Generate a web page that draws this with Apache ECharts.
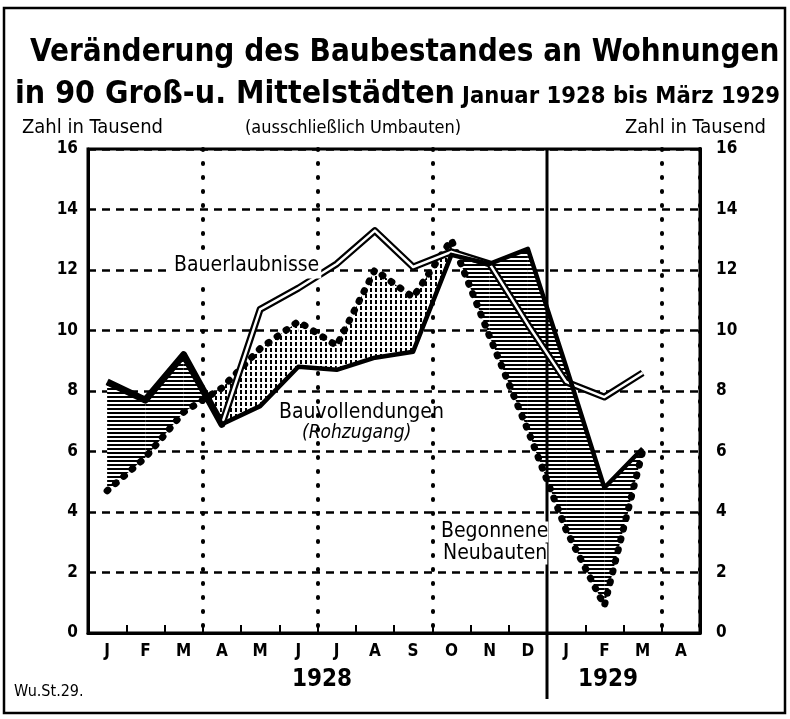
<!DOCTYPE html>
<html><head><meta charset="utf-8">
<script src="https://cdn.jsdelivr.net/npm/echarts@6/dist/echarts.min.js"></script>
<style>html,body{margin:0;padding:0;background:#fff}#c{width:790px;height:719px}</style>
</head><body><div id="c"></div>
<script>
// ---- data ----
const categories = ['1928-01','1928-02','1928-03','1928-04','1928-05','1928-06','1928-07','1928-08','1928-09','1928-10','1928-11','1928-12','1929-01','1929-02','1929-03','1929-04'];
const monthLabels = ['J','F','M','A','M','J','J','A','S','O','N','D','J','F','M','A'];
const yearLabels = ['1928','1929'];
const quarterBoundaries = [3, 6, 9, 15];
const yearBoundary = 12;
const bauerlaubnisse   = [8.3, 7.7, 9.2, 6.9, 10.7, 11.4, 12.2, 13.3, 12.1, 12.6, 12.2, 10.2, 8.3, 7.8, 8.6, null];
const bauvollendungen  = [8.3, 7.7, 9.2, 6.9, 7.5, 8.8, 8.7, 9.1, 9.3, 12.5, 12.2, 12.7, 8.8, 4.8, 6.1, null];
const begonneneNeubauten = [4.7, 5.8, 7.3, 8.1, 9.4, 10.3, 9.5, 12.0, 11.1, 13.0, 9.8, 6.7, 3.4, 0.9, 6.0, null];

// ---- helpers ----
const NARROW = '"Liberation Sans Narrow","DejaVu Sans Condensed","Roboto Condensed","Liberation Sans",sans-serif';
const mctx = document.createElement('canvas').getContext('2d');
function fitSize(text, weight, family, width){ mctx.font = weight + ' 100px ' + family; return 100 * width / mctx.measureText(text).width; }
function hatch(kind){
  const c = document.createElement('canvas');
  const g = c.getContext('2d');
  if (kind === 'h') { c.width = 4; c.height = 4; g.fillStyle = '#fff'; g.fillRect(0,0,4,4); g.fillStyle = '#000'; g.fillRect(0,0,4,2); }
  else { c.width = 5; c.height = 6; g.fillStyle = '#fff'; g.fillRect(0,0,5,6); g.fillStyle = '#000'; g.fillRect(0,0,2,4); }
  return c;
}
const patH = { image: hatch('h'), repeat: 'repeat' };
const patV = { image: hatch('v'), repeat: 'repeat' };

const segments = [];
for (let i = 0; i < categories.length - 1; i++) {
  if (bauvollendungen[i] != null && bauvollendungen[i+1] != null && begonneneNeubauten[i] != null && begonneneNeubauten[i+1] != null) segments.push([i, 0]);
}

const chart = echarts.init(document.getElementById('c'), null, { renderer: 'canvas' });

const t1 = 'Veränderung des Baubestandes an Wohnungen';
const t2 = 'in 90 Groß-u. Mittelstädten';
const t3 = 'Januar 1928 bis März 1929';
const s1 = fitSize(t1, 'bold', NARROW, 750);
const s2 = fitSize(t2, 'bold', NARROW, 440);
const s3 = fitSize(t3, 'bold', NARROW, 318);

const txt = (x, y, text, size, opts) => Object.assign({
  type: 'text', x, y, silent: true,
  style: Object.assign({ text, fill: '#000', font: 'bold ' + size + 'px ' + NARROW, textAlign: 'left', textVerticalAlign: 'middle' }, (opts && opts.style) || {})
}, opts && opts.z != null ? { z: opts.z } : {});

const option = {
  backgroundColor: '#fff',
  animation: false,
  grid: { left: 88, right: 90, top: 149, bottom: 86, show: true, borderColor: '#000', borderWidth: 3, backgroundColor: 'transparent' },
  xAxis: [{
    type: 'category', data: categories, boundaryGap: true,
    axisLine: { lineStyle: { color: '#000', width: 3 } },
    axisTick: { show: true, inside: true, length: 8, interval: 0, lineStyle: { color: '#000', width: 2 } },
    axisLabel: { interval: 0, margin: 10, color: '#000', fontWeight: 'bold', fontSize: 17, fontFamily: NARROW,
      formatter: (v, i) => monthLabels[i] },
    splitLine: { show: true, interval: (i) => quarterBoundaries.indexOf(i) >= 0,
      lineStyle: { color: '#000', width: 4, type: [1, 13], cap: 'round' } }
  }],
  yAxis: [{
    type: 'value', min: 0, max: 16, interval: 2, position: 'left',
    axisLine: { show: true, lineStyle: { color: '#000', width: 3 } },
    axisTick: { show: false },
    axisLabel: { margin: 10, color: '#000', fontWeight: 'bold', fontSize: 17, fontFamily: NARROW },
    splitLine: { show: true, lineStyle: { color: '#000', width: 2.5, type: [8, 6] } }
  }, {
    type: 'value', min: 0, max: 16, interval: 2, position: 'right',
    axisLine: { show: true, lineStyle: { color: '#000', width: 3 } },
    axisTick: { show: false },
    axisLabel: { margin: 16, color: '#000', fontWeight: 'bold', fontSize: 17, fontFamily: NARROW },
    splitLine: { show: false }
  }],
  series: [
    {
      type: 'custom', name: 'fill', coordinateSystem: 'cartesian2d', data: segments, encode: { x: 0, y: 1 }, z: 1, silent: true, clip: false,
      renderItem: function (params, api) {
        const i = api.value(0);
        const a0 = api.coord([i, bauvollendungen[i]]), a1 = api.coord([i + 1, bauvollendungen[i + 1]]);
        const b0 = api.coord([i, begonneneNeubauten[i]]), b1 = api.coord([i + 1, begonneneNeubauten[i + 1]]);
        const d0 = b0[1] - a0[1], d1 = b1[1] - a1[1];
        const children = [];
        const poly = (pts, up) => children.push({ type: 'polygon', shape: { points: pts }, style: { fill: up ? patH : patV, stroke: null } });
        if (d0 * d1 >= 0) { poly([a0, a1, b1, b0], (d0 + d1) > 0); }
        else {
          const t = d0 / (d0 - d1);
          const x = [a0[0] + t * (a1[0] - a0[0]), a0[1] + t * (a1[1] - a0[1])];
          poly([a0, x, b0], d0 > 0);
          poly([x, a1, b1], d1 > 0);
        }
        return { type: 'group', children };
      }
    },
    {
      type: 'custom', name: 'divider', coordinateSystem: 'cartesian2d', data: [[yearBoundary, 0]], encode: { x: 0, y: 1 }, z: 2, silent: true, clip: false,
      renderItem: function (params, api) {
        const bw = api.size([1, 0])[0];
        const top = api.coord([api.value(0), 16]);
        const bot = api.coord([api.value(0), 0]);
        const x = top[0] - bw / 2;
        return { type: 'line', shape: { x1: x, y1: top[1], x2: x, y2: bot[1] + 66 }, style: { stroke: '#000', lineWidth: 3 } };
      }
    },
    {
      type: 'line', name: 'Begonnene Neubauten', data: begonneneNeubauten, symbol: 'none', z: 3, silent: true,
      lineStyle: { color: '#000', width: 7, type: [1, 10], cap: 'round', join: 'round' }
    },
    {
      type: 'line', name: 'Bauerlaubnisse', data: bauerlaubnisse, symbol: 'none', z: 4, silent: true,
      lineStyle: { color: '#000', width: 7, join: 'round' }
    },
    {
      type: 'line', name: 'Bauerlaubnisse (innen)', data: bauerlaubnisse, symbol: 'none', z: 5, silent: true,
      lineStyle: { color: '#fff', width: 2.5, join: 'round' }
    },
    {
      type: 'line', name: 'Bauvollendungen', data: bauvollendungen, symbol: 'none', z: 6, silent: true,
      lineStyle: { color: '#000', width: 4.5, join: 'round' }
    }
  ],
  graphic: [
    { type: 'rect', shape: { x: 4, y: 8, width: 781, height: 705 }, style: { fill: null, stroke: '#000', lineWidth: 2.5 }, silent: true, z: 0 },
    txt(30, 53, t1, s1),
    txt(15, 95, t2, s2),
    txt(462, 97, t3, s3),
    txt(22, 128, 'Zahl in Tausend', 20, { style: { font: '20px ' + NARROW } }),
    txt(245, 128, '(ausschließlich Umbauten)', 18, { style: { font: '18px ' + NARROW } }),
    txt(625, 128, 'Zahl in Tausend', 20, { style: { font: '20px ' + NARROW } }),
    txt(172, 266, 'Bauerlaubnisse', 21, { z: 10, style: { font: '21px ' + NARROW, backgroundColor: '#fff', padding: [2, 2] } }),
    txt(279, 413, 'Bauvollendungen', 21, { z: 10, style: { font: '21px ' + NARROW } }),
    txt(302, 433, '(Rohzugang)', 19, { z: 10, style: { font: 'italic 19px ' + NARROW } }),
    txt(441, 532, 'Begonnene', 21, { z: 10, style: { font: '21px ' + NARROW, backgroundColor: '#fff' } }),
    txt(443, 554, 'Neubauten', 21, { z: 10, style: { font: '21px ' + NARROW, backgroundColor: '#fff' } }),
    txt(292, 680, yearLabels[0], 24, {}),
    txt(578, 680, yearLabels[1], 24, {}),
    txt(14, 692, 'Wu.St.29.', 16, { style: { font: '16px ' + NARROW } })
  ]
};
chart.setOption(option);
</script>
</body></html>
